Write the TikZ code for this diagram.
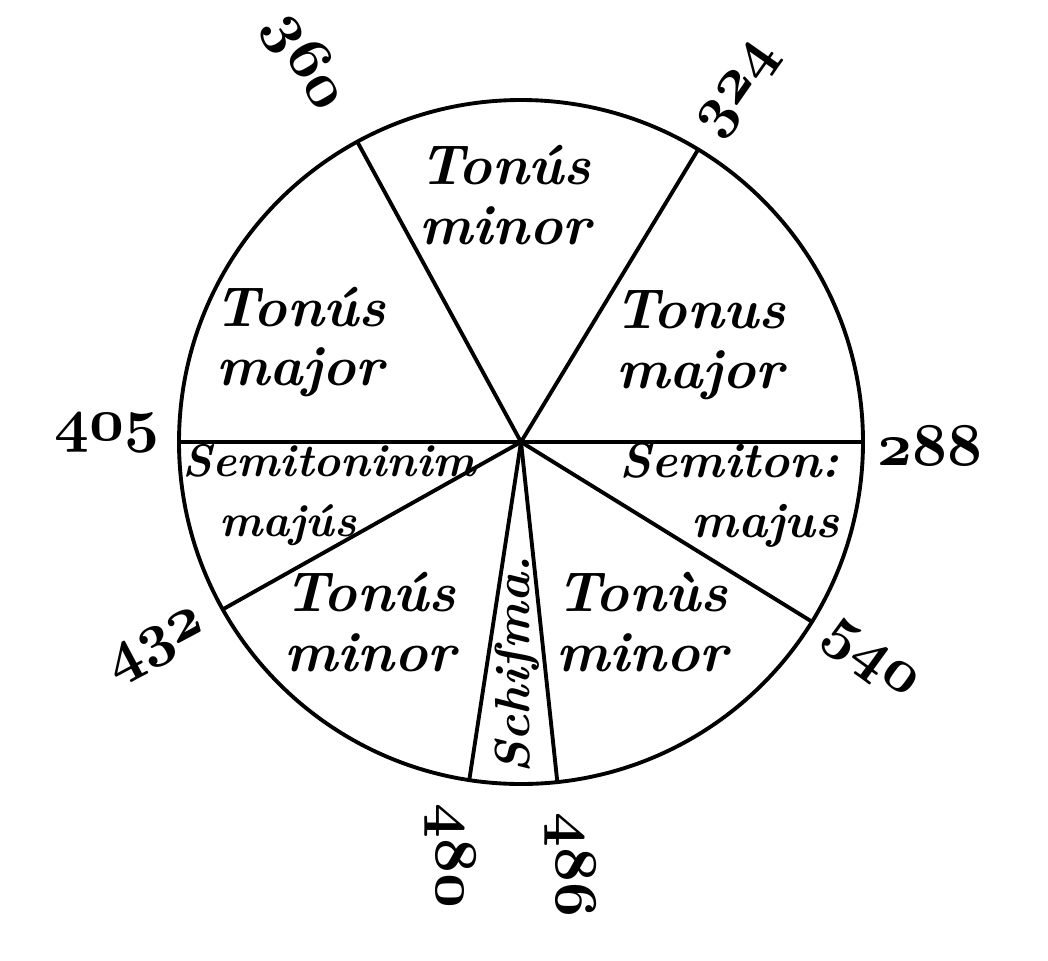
\documentclass[tikz,border=0pt]{standalone}
\usetikzlibrary{calc}

\tikzset{
  rim/.style={line width=1.1pt},
  tonlab/.style={font=\fontsize{16}{17}\selectfont\bfseries\itshape, align=center, inner sep=0pt},
  semilab/.style={font=\fontsize{14}{17}\selectfont\bfseries\itshape, inner sep=0pt},
  numlab/.style={font=\fontsize{17}{17}\selectfont, inner sep=0pt}
}
\newcommand{\osn}[1]{{\usefont{OML}{cmm}{b}{it}#1}}

\begin{document}
\begin{tikzpicture}
	\useasboundingbox (0,0) rectangle (10.48,9.60);
	
	% Circle and its centre
	\coordinate (c) at (5.21,5.18);
	\draw[rim] (c) circle (3.42);
	
	% Points on the rim
	\foreach \ang/\nm in {0/p288, 58.8/p324, 118.6/p360, 180/p405, 209.3/p432, 261.3/p480, 276.1/p486, 328.3/p540}
		\coordinate (\nm) at ($(c)+(\ang:3.42)$);
	
	% Division lines
	\foreach \nm in {p288, p324, p360, p405, p432, p480, p486, p540}
		\draw[rim] (c) -- (\nm);
	
	% Numbers round the circle
	\node[numlab, rotate=-60] (n360) at (3.05,8.98) {\osn{360}};
	\node[numlab, rotate=55] (n324) at (7.39,8.70) {\osn{324}};
	\node[numlab] (n405) at (1.07,5.27) {\osn{405}};
	\node[numlab] (n288) at (9.30,5.14) {\osn{288}};
	\node[numlab, rotate=28] (n432) at (1.57,3.13) {\osn{432}};
	\node[numlab, rotate=-36] (n540) at (8.69,2.99) {\osn{540}};
	\node[numlab, rotate=-90] (n480) at (4.50,1.04) {\osn{480}};
	\node[numlab, rotate=-90] (n486) at (5.70,0.95) {\osn{486}};
	
	% Intervals
	\node[tonlab] (tmin1) at (5.05,7.65) {Ton\'us\\minor};
	\node[tonlab] (tmaj1) at (7.00,6.15) {Tonus\\major};
	\node[tonlab] (tmaj2) at (3.00,6.18) {Ton\'us\\major};
	\node[semilab, font=\fontsize{13}{17}\selectfont\bfseries\itshape, align=left, anchor=west] (smaj1) at (1.82,4.65) {Semitoninim\\\hspace*{0.8em}maj\'us};
	\node[semilab, align=right, anchor=east] (smaj2) at (8.40,4.65) {Semiton:\\majus};
	\node[tonlab] (tmin2) at (3.70,3.38) {Ton\'us\\minor};
	\node[tonlab] (tmin3) at (6.42,3.38) {Ton\`us\\minor};
	\node[semilab, rotate=90] (schis) at (5.17,2.95) {Schi^^^^017fma.};
\end{tikzpicture}
\end{document}
